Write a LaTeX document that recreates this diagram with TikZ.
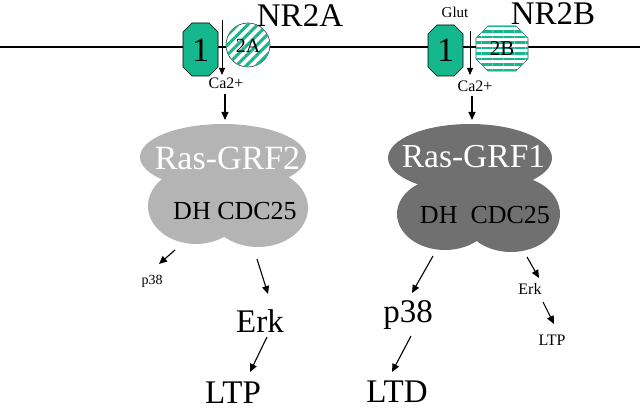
\documentclass[tikz,border=0pt]{standalone}
\usepackage{fontspec}
\setmainfont{Liberation Serif}
\usetikzlibrary{arrows.meta,patterns.meta}
\definecolor{nrgreen}{RGB}{20,184,140}
\definecolor{grflight}{RGB}{180,180,180}
\definecolor{grfdark}{RGB}{112,112,112}
\begin{document}
\begin{tikzpicture}[x=1pt,y=-1pt,
  lbl/.style={inner sep=0pt,anchor=center},
  fs/.style={font=\fontsize{#1}{#1}\selectfont},
  arr/.style={-{Triangle[length=8pt,width=7pt]},line width=1.1pt},
  thinarr/.style={-{Triangle[length=7pt,width=6pt]},line width=0.8pt},
  octa/.style={draw=black,line width=0.6pt,fill=nrgreen},
  stripeA/.style={postaction={pattern={Lines[angle=45,distance=7pt,line width=3pt]},pattern color=nrgreen}},
  stripeB/.style={postaction={pattern={Lines[angle=0,distance=5.5pt,line width=2.6pt]},pattern color=nrgreen}}]
\useasboundingbox (0,0) rectangle (640,411);
\fill[white] (0,0) rectangle (640,411);
% membrane
\draw[line width=1.1pt] (0,47) -- (640,47);
% NR2A receptor
\draw[octa] (183,32) -- (192,23) -- (209,23) -- (218,32) -- (218,67) -- (209,76) -- (192,76) -- (183,67) -- cycle;
\node[lbl,fs=34] (oneA) at (200.5,50) {1};
\node[circle,draw=black!80,line width=0.6pt,fill=white,minimum size=44pt,inner sep=0pt,stripeA] (twoA) at (248,45) {};
\node[lbl,fs=20] (twoAt) at (248,46) {2A};
\node[lbl,fs=33] (nrA) at (300,16) {NR2A};
\coordinate (inA) at (222,20);
\coordinate (outA) at (222,75);
\draw[thinarr] (inA) -- (outA);
\node[lbl,fs=16] (caA) at (226,83) {Ca2+};
% NR2B receptor
\node[lbl,fs=15] (glut) at (455,12) {Glut};
\draw[octa] (428,34) -- (437,25) -- (454,25) -- (463,34) -- (463,67) -- (454,76) -- (437,76) -- (428,67) -- cycle;
\node[lbl,fs=34] (oneB) at (445.5,50.5) {1};
\draw[draw=black!70,line width=0.6pt,fill=white,stripeB] (476,38) -- (488,26) -- (516,26) -- (528,38) -- (528,59) -- (516,71) -- (488,71) -- (476,59) -- cycle;
\node[lbl,fs=21] (twoB) at (502,48.5) {2B};
\node[lbl,fs=33] (nrB) at (553,14) {NR2B};
\coordinate (inB) at (470,31);
\coordinate (outB) at (470,75);
\draw[thinarr] (inB) -- (outB);
\node[lbl,fs=16] (caB) at (475,86) {Ca2+};
% Ras-GRF2 cloud
\fill[grflight] (223,157) ellipse [x radius=83pt,y radius=33pt];
\fill[grflight] (196,206) ellipse [x radius=48pt,y radius=38pt];
\fill[grflight] (258,208) ellipse [x radius=50pt,y radius=39pt];
\node[lbl,fs=34,text=white] (grf2) at (227.5,158.5) {Ras-GRF2};
\node[lbl,fs=26] (dh2) at (235,211) {DH CDC25};
% Ras-GRF1 cloud
\fill[grfdark] (470,158) ellipse [x radius=82pt,y radius=34pt];
\fill[grfdark] (445,214) ellipse [x radius=48pt,y radius=36pt];
\fill[grfdark] (511,214) ellipse [x radius=49pt,y radius=38pt];
\node[lbl,fs=33.5,text=white] (grf1) at (473.5,156.5) {Ras-GRF1};
\node[lbl,fs=26] (dh1) at (485,215.5) {DH\ \ CDC25};
% arrows from Ca2+
\draw[arr] (caA.south) ++(-1,5) coordinate (ca2s) -- (225,120) coordinate (grf2top);
\draw[arr] (caB.south) ++(-3,4) coordinate (ca1s) -- (472,120) coordinate (grf1top);
% downstream left
\node[lbl,fs=14] (p38s) at (152,281) {p38};
\node[lbl,fs=33] (erkL) at (260,321) {Erk};
\node[lbl,fs=33] (ltpL) at (233,393) {LTP};
\coordinate (l1s) at (175,250);
\coordinate (l2s) at (257,259);
\draw[arr] (l1s) -- (159,264);
\draw[arr] (l2s) -- (268,294);
\draw[arr] (267,337) -- (250,372);
% downstream right
\node[lbl,fs=33] (p38L) at (408,315) {p38};
\node[lbl,fs=33] (ltd) at (397,392) {LTD};
\node[lbl,fs=16] (erkS) at (530,289) {Erk};
\node[lbl,fs=16] (ltpS) at (552,340) {LTP};
\coordinate (r1s) at (433,256);
\coordinate (r3s) at (527,257);
\draw[arr] (r1s) -- (412,293);
\draw[arr] (411,336) -- (392,372);
\draw[arr] (r3s) -- (539,278);
\draw[arr] (543,302) -- (554,324);
\end{tikzpicture}
\end{document}
